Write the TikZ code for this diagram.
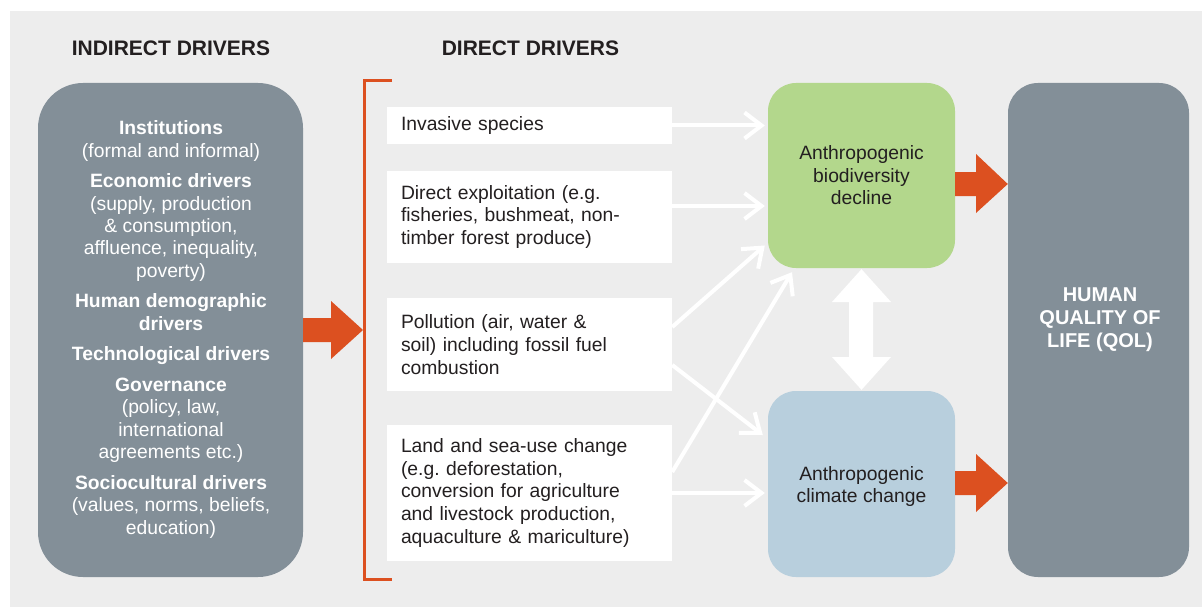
\documentclass[tikz,border=0pt]{standalone}
\usepackage{fontspec}
\setmainfont{Liberation Sans}
\usetikzlibrary{arrows.meta,calc}
\definecolor{bg}{HTML}{EDEDED}
\definecolor{greybox}{HTML}{838F98}
\definecolor{orng}{HTML}{DC5020}
\definecolor{grn}{HTML}{B3D78C}
\definecolor{blu}{HTML}{B8CFDD}
\definecolor{txt}{HTML}{231F20}
\tikzset{
  body/.style={font=\fontsize{19.3pt}{22.6pt}\selectfont, text=txt},
  heading/.style={font=\bfseries\fontsize{21pt}{24pt}\selectfont, text=txt},
  gbox/.style={fill=greybox, draw=none},
  wbox/.style={body, fill=white, draw=none, text width=257pt, inner xsep=14pt, inner ysep=0pt, align=left, minimum width=285pt},
  effbox/.style={body, draw=none, minimum width=187pt, rounded corners=28pt, align=center},
  warrow/.style={draw=white, line width=4pt, -{Straight Barb[length=17pt,width=26pt]}},
  fatarrow/.style={fill=orng, draw=none},
}
\begin{document}
\begin{tikzpicture}[x=1pt,y=-1pt]
\useasboundingbox (0,0) rectangle (1202,607);
\fill[bg] (10,11) rectangle (1202,607);

% headings
\node[heading] (hind) at (171,48) {INDIRECT DRIVERS};
\node[heading] (hdir) at (530.5,48) {DIRECT DRIVERS};

% indirect drivers box
\node[gbox, minimum width=265pt, minimum height=494pt, rounded corners=45pt] (ind) at (170.5,330) {};
\node[font=\fontsize{19.3pt}{22.4pt}\selectfont, text=white, align=center] (indtxt) at (171,329.5)
  {\textbf{Institutions}\\(formal and informal)\\[8.2pt]
   \textbf{Economic drivers}\\(supply, production\\\& consumption,\\affluence, inequality,\\poverty)\\[8.2pt]
   \textbf{Human demographic}\\\textbf{drivers}\\[8.2pt]
   \textbf{Technological drivers}\\[8.2pt]
   \textbf{Governance}\\(policy, law,\\international\\agreements etc.)\\[8.2pt]
   \textbf{Sociocultural drivers}\\(values, norms, beliefs,\\education)};

% bracket
\coordinate (bt) at (392,81);
\coordinate (bb) at (392,579);
\draw[orng, line width=3pt] (bt) -- (364,81) -- (364,579) -- (bb);

% fat arrow indirect -> direct
\fill[fatarrow] (ind.east |- 0,318) -- (331,318) -- (331,301) -- (363,330) -- (331,359) -- (331,342) -- (ind.east |- 0,342) -- cycle;

% direct driver boxes
\node[wbox, minimum height=37pt] (inv) at (529.5,125.5) {\raisebox{-1.5pt}{Invasive species}};
\node[wbox, minimum height=92pt] (dex) at (529.5,217) {Direct exploitation (e.g.\\fisheries, bushmeat, non-\\timber forest produce)};
\node[wbox, minimum height=93pt] (pol) at (529.5,344.5) {Pollution (air, water \&\\soil) including fossil fuel\\combustion};
\node[wbox, minimum height=136pt] (land) at (529.5,493) {Land and sea-use change\\(e.g.\ deforestation,\\conversion for agriculture\\and livestock production,\\aquaculture \& mariculture)};

% effect boxes
\node[effbox, fill=grn, minimum height=185pt] (bio) at (861.5,175.5) {Anthropogenic\\biodiversity\\decline};
\node[effbox, fill=blu, minimum height=186pt] (clim) at (861.5,484) {};
\node[body, align=center] (climtxt) at (861.5,486.5) {Anthropogenic\\climate change};

% QOL box
\node[gbox, minimum width=181pt, minimum height=494pt, rounded corners=30pt] (qol) at (1098.5,330) {};
\node[font=\bfseries\fontsize{20pt}{23pt}\selectfont, text=white, align=center] (qoltxt) at (1100,320) {HUMAN\\QUALITY OF\\LIFE (QOL)};

% white arrows
\draw[warrow] (inv.east) -- ($(bio.west |- inv.east)+(-3,0)$);
\draw[warrow] (dex.east |- 0,206) -- ($(bio.west |- 0,206)+(-3,0)$);
\draw[warrow] (pol.east |- 0,327) -- ($(bio.west)+(-3,70)$);
\draw[warrow] (pol.east |- 0,365) -- ($(clim.west)+(-5,-49)$);
\draw[warrow] (land.east |- 0,472) -- ($(bio.south)+(-69.5,4)$);
\draw[warrow] (land.east) -- ($(clim.west |- land.east)+(-3,0)$);

% double white arrow
\fill[white] ($(bio.south)+(0,1)$) -- (891,302) -- (873,302) -- (873,357) -- (891,357) -- ($(clim.north)+(0,-1)$) -- (832,357) -- (849,357) -- (849,302) -- (832,302) -- cycle;

% fat arrows to QOL
\fill[fatarrow] (bio.east |- 0,172) -- (976,172) -- (976,154) -- (qol.west |- 0,184) -- (976,213) -- (976,196) -- (bio.east |- 0,196) -- cycle;
\fill[fatarrow] (clim.east |- 0,471) -- (976,471) -- (976,454) -- (qol.west |- 0,483) -- (976,512) -- (976,495) -- (clim.east |- 0,495) -- cycle;
\end{tikzpicture}
\end{document}
